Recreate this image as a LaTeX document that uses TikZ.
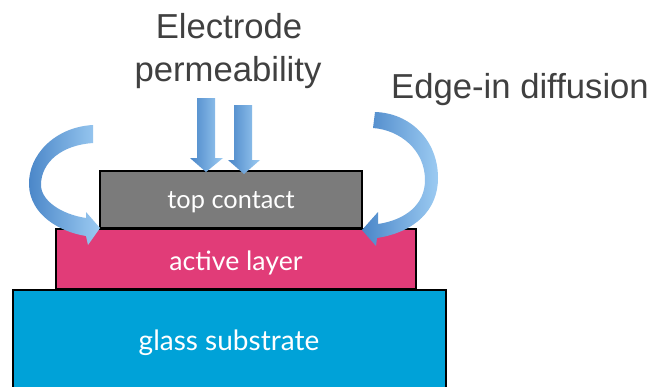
\documentclass[tikz,border=0pt]{standalone}
\usepackage{fontspec}
\setmainfont{Liberation Sans}
\newfontfamily\boxfont{Lato}
\definecolor{cgray}{HTML}{7B7B7B}
\definecolor{cpink}{HTML}{E13C78}
\definecolor{cblue}{HTML}{00A2D8}
\definecolor{ctext}{HTML}{404040}
\definecolor{adark}{HTML}{4A86C8}
\definecolor{alight}{HTML}{9CCBF2}
\begin{document}
\begin{tikzpicture}[x=0.75pt,y=-0.75pt,
  layer/.style={draw=black, line width=1.1pt, inner sep=0pt},
  lbl/.style={text=white, anchor=base, inner sep=0pt},
  title/.style={text=ctext, font=\fontsize{26}{31}\selectfont, inner sep=0pt, anchor=base},
  barrow/.style={left color=adark, right color=alight, draw=none}]
\useasboundingbox (0,0) rectangle (654,386);
\clip (0,0) rectangle (654,386);
\fill[white] (0,0) rectangle (654,386);
% layers
\node[layer, fill=cblue, minimum width=324.75pt, minimum height=82.5pt] (glass) at (229.5,345) {};
\node[layer, fill=cpink, minimum width=270pt, minimum height=45pt] (active) at (236,259) {};
\node[layer, fill=cgray, minimum width=196.5pt, minimum height=42.75pt] (top) at (231,199.5) {};
\node[lbl, font=\boxfont\fontsize{19}{22}\selectfont] (tl) at (231,208) {top contact};
\node[lbl, font=\boxfont\fontsize{20}{24}\selectfont] (al) at (236,270) {active layer};
\node[lbl, font=\boxfont\fontsize{21}{25}\selectfont] (gl) at (229,350) {glass substrate};
% titles
\node[title] (t1) at (229,38) {Electrode};
\node[title] (t2) at (228,81) {permeability};
\node[title] (t3) at (520,98) {Edge-in diffusion};
% down arrows
\path[barrow] (197,98) -- (215,98) -- (215,158) -- (223,158) -- (206,172) -- (190,158) -- (197,158) -- cycle;
\path[barrow] (234,105) -- (252,105) -- (252,160) -- (260,160) -- (244,174) -- (228,160) -- (234,160) -- cycle;
% left curved arrow
\path[barrow] (93,125) .. controls (55,127) and (28,155) .. (29,185)
  .. controls (30,215) and (60,232) .. (86,236) -- (88,245) -- (100,228) -- (86,212) -- (86,218)
  .. controls (60,214) and (41,200) .. (41,185)
  .. controls (41,162) and (62,145) .. (93,143) -- cycle;
% right curved arrow
\path[barrow] (375,112) -- (373,128) .. controls (400,130) and (425,150) .. (425,180)
  .. controls (425,205) and (405,220) .. (378,224) -- (378,212) -- (362,230) -- (376,246) -- (377,238)
  .. controls (415,232) and (438,210) .. (438,178)
  .. controls (438,140) and (410,113) .. (375,112) -- cycle;
\end{tikzpicture}
\end{document}
